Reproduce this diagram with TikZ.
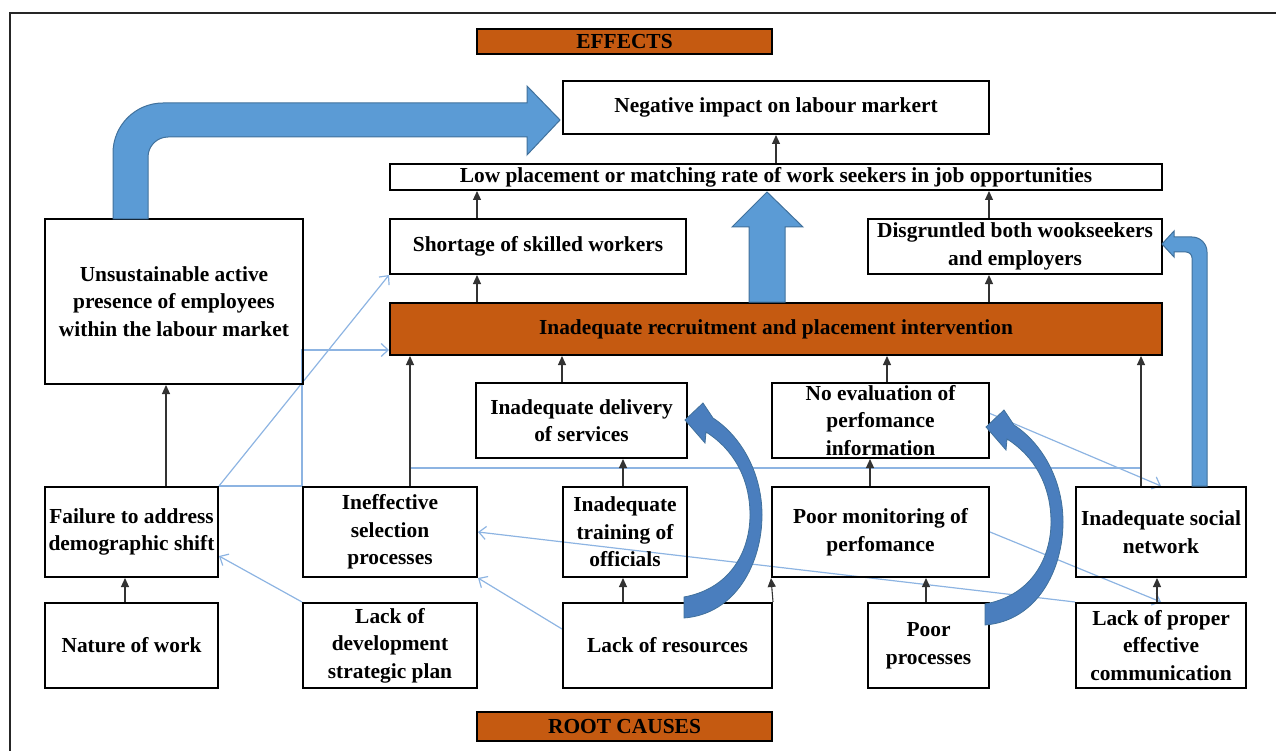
\documentclass[tikz,border=0pt]{standalone}
\usepackage{fontspec}
\setmainfont{Liberation Serif}
\usetikzlibrary{arrows.meta,backgrounds}
\definecolor{rootorange}{RGB}{197,90,17}
\definecolor{arrowblue}{RGB}{91,155,213}
\definecolor{arrowedge}{RGB}{65,113,156}
\definecolor{swooshblue}{RGB}{74,126,190}
\definecolor{linkblue}{RGB}{141,180,226}
\begin{document}
\begin{tikzpicture}[x=1pt,y=-1pt,
        font=\fontsize{21.4}{27.6}\selectfont\bfseries,
        box/.style={draw, line width=2pt, align=center, inner sep=0pt},
        banner/.style={box, fill=rootorange, line width=1.5pt},
        up/.style={draw=black!80, line width=1.1pt, -{Triangle[length=9pt,width=8pt]}},
        link/.style={draw=linkblue, line width=1.2pt, -{Straight Barb[length=7pt,width=13pt]}},
        bigarrow/.style={fill=arrowblue, draw=arrowedge, line width=1pt},
        swoosh/.style={fill=swooshblue, draw=arrowedge, line width=0.8pt}]
        \useasboundingbox (0,0) rectangle (1276,751);
        \draw[line width=1.3pt, black!85] (10,751) -- (10,13) -- (1276,13);
        % effects
        \node[banner, minimum width=295pt, minimum height=25pt] (effects) at (624.5,41.5) {EFFECTS};
        \node[box, minimum width=426pt, minimum height=53pt] (neg) at (776,107.5) {Negative impact on labour markert};
        \node[box, minimum width=772pt, minimum height=26pt] (low) at (776,177) {Low placement or matching rate of work seekers in job opportunities};
        \node[box, minimum width=296pt, minimum height=55pt] (short) at (538,246.5) {Shortage of skilled workers};
        \node[box, minimum width=294pt, minimum height=55pt] (disg) at (1015,246.5) {Disgruntled both wookseekers\\and employers};
        \node[banner, line width=2pt, minimum width=772pt, minimum height=52pt] (recr) at (776,329) {Inadequate recruitment and placement intervention};
        \node[box, minimum width=258pt, minimum height=165pt] (unsus) at (174,301.5) {Unsustainable active\\presence of employees\\within the labour market};
        \node[box, minimum width=211pt, minimum height=75pt] (deliv) at (581.5,420.5) {Inadequate delivery\\of services};
        \node[box, minimum width=217pt, minimum height=75pt] (noeval) at (880.5,420.5) {No evaluation of\\perfomance\\information};
        % causes
        \node[box, minimum width=173pt, minimum height=90pt] (fail) at (131.5,532) {Failure to address\\demographic shift};
        \node[box, minimum width=174pt, minimum height=90pt] (ineff) at (390,532) {Ineffective\\selection\\processes};
        \node[box, minimum width=124pt, minimum height=90pt] (train) at (625,532) {Inadequate\\training of\\officials};
        \node[box, minimum width=217pt, minimum height=90pt] (monit) at (880.5,532) {Poor monitoring of\\perfomance};
        \node[box, minimum width=170pt, minimum height=90pt] (social) at (1161,532) {Inadequate social\\network};
        \node[box, minimum width=173pt, minimum height=85pt] (nature) at (131.5,645.5) {Nature of work};
        \node[box, minimum width=174pt, minimum height=85pt] (plan) at (390,645.5) {Lack of\\development\\strategic plan};
        \node[box, minimum width=209pt, minimum height=85pt] (resrc) at (667.5,645.5) {Lack of resources};
        \node[box, minimum width=121pt, minimum height=85pt] (proc) at (928.5,645.5) {Poor\\processes};
        \node[box, minimum width=170pt, minimum height=85pt] (comm) at (1161,645.5) {Lack of proper\\effective\\communication};
        \node[banner, minimum width=295pt, minimum height=29pt] (roots) at (624.5,726.5) {ROOT CAUSES};
        % columns and rows for the connectors
        \coordinate (c125) at (125,0);
        \coordinate (c166) at (166,0);
        \coordinate (c410) at (410,0);
        \coordinate (c477) at (477,0);
        \coordinate (c562) at (562,0);
        \coordinate (c623) at (623,0);
        \coordinate (c870) at (870,0);
        \coordinate (c887) at (887,0);
        \coordinate (c926) at (926,0);
        \coordinate (c989) at (989,0);
        \coordinate (c1141) at (1141,0);
        \coordinate (c1157) at (1157,0);
        \coordinate (r350) at (0,350);
        \coordinate (r468) at (0,468);
        % black links
        \draw[up] (low.north) -- (neg.south);
        \draw[up] (short.north -| c477) -- (low.south -| c477);
        \draw[up] (disg.north -| c989) -- (low.south -| c989);
        \draw[up] (recr.north -| c477) -- (short.south -| c477);
        \draw[up] (recr.north -| c989) -- (disg.south -| c989);
        \draw[up] (ineff.north -| c410) -- (recr.south -| c410);
        \draw[up] (deliv.north -| c562) -- (recr.south -| c562);
        \draw[up] (noeval.north -| c887) -- (recr.south -| c887);
        \draw[up] (social.north -| c1141) -- (recr.south -| c1141);
        \draw[up] (fail.north -| c166) -- (unsus.south -| c166);
        \draw[up] (nature.north -| c125) -- (fail.south -| c125);
        \draw[up] (train.north -| c623) -- (deliv.south -| c623);
        \draw[up] (resrc.north -| c623) -- (train.south -| c623);
        \draw[up] (monit.north -| c870) -- (noeval.south -| c870);
        \draw[up] (resrc.north east) -- (monit.south west);
        \draw[up] (proc.north -| c926) -- (monit.south -| c926);
        \draw[up] (comm.north -| c1157) -- (social.south -| c1157);
        % light blue links
        \begin{pgfonlayer}{background}
            \draw[link] (fail.north east) -- (short.south west);
            \draw[link] (fail.north east) -- (ineff.north west) -- (ineff.north west |- r350) -- (recr.west |- r350);
            \draw[link, -] (c410 |- r468) -- (c1141 |- r468);
            \draw[link] ([yshift=7pt]noeval.east) -- (social.north);
            \draw[link] (monit.east) -- (comm.north);
            \draw[link] (comm.north west) -- (ineff.east);
            \draw[link] ([yshift=-27pt]resrc.north west) -- (ineff.south east);
            \draw[link] (plan.north west) -- ([yshift=-24pt]fail.east);
        \end{pgfonlayer}
        % big arrows
        \filldraw[bigarrow] (113,219) -- (113,153) .. controls (113,125.4) and (135.4,103) .. (163,103) -- (527,103) -- (527,86) -- (560,120) -- (527,155) -- (527,137) -- (168,137) .. controls (157,137) and (148,146) .. (148,157) -- (148,219) -- cycle;
        \filldraw[bigarrow] (749,302) -- (749,227) -- (732,227) -- (767,192) -- (803,227) -- (785,227) -- (785,302) -- cycle;
        \filldraw[bigarrow] (1192,486) -- (1192,258) .. controls (1192,254.7) and (1189.3,252) .. (1186,252) -- (1174,252) -- (1174,257) -- (1162,244) -- (1174,231) -- (1174,237) -- (1192,237) .. controls (1200.3,237) and (1207,243.7) .. (1207,252) -- (1207,486) -- cycle;
        \begin{scope}
            \filldraw[swoosh] (684,597) .. controls (733,588) and (750,548) .. (750,515) .. controls (750,478) and (733,449) .. (706,432) -- (705,443) -- (685,420) -- (703,403) -- (713,418) .. controls (742,437) and (762,474) .. (762,515) .. controls (762,563) and (736,614) .. (684,618) -- cycle;
        \end{scope}
        \begin{scope}[shift={(301,7)}]
            \filldraw[swoosh] (684,597) .. controls (733,588) and (750,548) .. (750,515) .. controls (750,478) and (733,449) .. (706,432) -- (705,443) -- (685,420) -- (703,403) -- (713,418) .. controls (742,437) and (762,474) .. (762,515) .. controls (762,563) and (736,614) .. (684,618) -- cycle;
        \end{scope}
\end{tikzpicture}
\end{document}
